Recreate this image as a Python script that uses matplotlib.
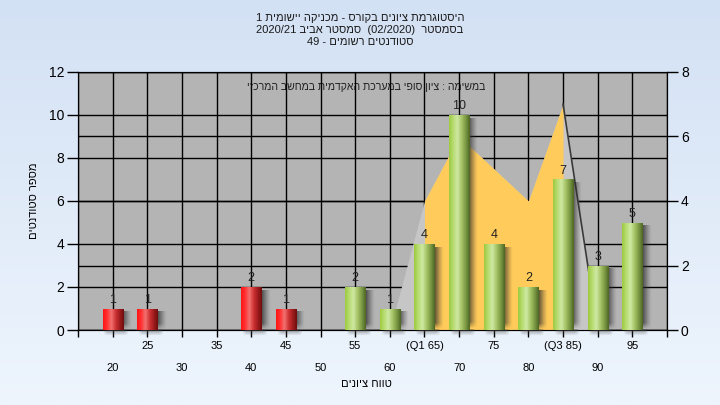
import numpy as np
import matplotlib
matplotlib.use("Agg")
import matplotlib.pyplot as plt
from matplotlib.colors import LinearSegmentedColormap, to_rgb

# ---------------- data ----------------
categories = [20, 25, 30, 35, 40, 45, 50, 55, 60, 65, 70, 75, 80, 85, 90, 95]
tick_labels = ['20', '25', '30', '35', '40', '45', '50', '55', '60',
               '(Q1 65)', '70', '75', '80', '(Q3 85)', '90', '95']
counts = [1, 1, 0, 0, 2, 1, 0, 2, 1, 4, 10, 4, 2, 7, 3, 5]
pass_grade = 55
area_grades = [60, 65, 70, 75, 80, 85, 90]
area_values = [0, 4, 6, 5, 4, 7, 0]
q1_grade, q3_grade = 65, 85

title_lines = ['היסטוגרמת ציונים בקורס - מכניקה יישומית 1',
               'בסמסטר  (02/2020)  סמסטר אביב 2020/21',
               'סטודנטים רשומים - 49']
note_text = 'במשימה : ציון סופי במערכת האקדמית במחשב המרכזי'
x_title = 'טווח ציונים'
y_title = 'מספר סטודנטים'

FONT = ['Liberation Sans', 'DejaVu Sans']
plt.rcParams['font.family'] = FONT


def bidi(s):
    """Minimal bidi reordering (RTL paragraph) for display."""
    def cls(c):
        o = ord(c)
        if 0x0590 <= o <= 0x05FF:
            return 'R'
        if c.isdigit():
            return 'EN'
        if c in '/.,:':
            return 'CS'
        if c in '-+':
            return 'ES'
        if c.isalpha():
            return 'L'
        return 'N'
    t = [cls(c) for c in s]
    n = len(t)
    for i in range(1, n - 1):
        if t[i] in ('CS', 'ES') and t[i - 1] == 'EN' and t[i + 1] == 'EN':
            t[i] = 'EN'
    t = ['N' if x in ('CS', 'ES') else x for x in t]
    last = 'R'
    for i in range(n):
        if t[i] in ('L', 'R'):
            last = t[i]
        elif t[i] == 'EN' and last == 'L':
            t[i] = 'L'
    i = 0
    while i < n:
        if t[i] == 'N':
            j = i
            while j < n and t[j] == 'N':
                j += 1
            b = 'R' if i == 0 or t[i - 1] in ('R', 'EN') else 'L'
            a = 'R' if j == n or t[j] in ('R', 'EN') else 'L'
            d = b if a == b else 'R'
            for k in range(i, j):
                t[k] = d
            i = j
        else:
            i += 1
    levels = [1 if x == 'R' else 2 for x in t]
    mirror = {'(': ')', ')': '(', '[': ']', ']': '['}
    chars = [mirror.get(c, c) if lv % 2 == 1 else c for c, lv in zip(s, levels)]
    seq = list(zip(chars, levels))
    for lev in (2, 1):
        out = []
        i = 0
        while i < n:
            if seq[i][1] >= lev:
                j = i
                while j < n and seq[j][1] >= lev:
                    j += 1
                out.extend(reversed(seq[i:j]))
                i = j
            else:
                out.append(seq[i])
                i += 1
        seq = out
    return ''.join(c for c, _ in seq)


fig = plt.figure(figsize=(7.2, 4.05), dpi=100)

# background gradient
bg = fig.add_axes([0, 0, 1, 1], zorder=-10)
top_c = np.array(to_rgb('#d3e1f4'))
bot_c = np.array(to_rgb('#eef5fd'))
tgrad = np.linspace(0, 1, 256)[:, None, None]
bg.imshow(top_c * (1 - tgrad) + bot_c * tgrad, aspect='auto', extent=[0, 1, 0, 1])
bg.set_axis_off()

L, B, W, H = 78 / 720, 1 - 330 / 405, (667 - 78) / 720, (330 - 72) / 405
ax = fig.add_axes([L, B, W, H])
ax.set_facecolor('#b4b4b4')
xpos = np.arange(len(categories))
ax.set_xlim(-1, len(categories))
ax.set_ylim(0, 12)
ax.set_yticks(np.arange(0, 13, 2))
ax.tick_params(axis='y', direction='out', length=8, width=1, labelsize=10, pad=2)
ax.set_axisbelow(True)
ax.grid(True, color='black', linewidth=1)
for sp in ax.spines.values():
    sp.set_color('black')

# x ticks: marks everywhere, labels in two staggered rows
major_pos = np.arange(-1, len(categories) + 1)
major_lab = []
for p in major_pos:
    if 0 <= p < len(categories) and p % 2 == 1:
        major_lab.append(tick_labels[p])
    else:
        major_lab.append('')
ax.set_xticks(major_pos)
ax.set_xticklabels(major_lab)
ax.xaxis.remove_overlapping_locs = False
even_pos = xpos[::2]
ax.set_xticks(even_pos, minor=True)
ax.set_xticklabels([tick_labels[p] for p in even_pos], minor=True)
ax.tick_params(axis='x', which='major', direction='out', length=5, width=1, labelsize=8, pad=3)
ax.tick_params(axis='x', which='minor', length=0, labelsize=8, pad=24)

ax.set_xlabel(bidi(x_title), fontsize=8)
ax.xaxis.set_label_coords(0.49, -0.19)
ax.set_ylabel(bidi(y_title), fontsize=8)
ax.yaxis.set_label_coords(-0.066, 0.5)

ax.text(0.49, 0.942, bidi(note_text), transform=ax.transAxes, ha='center', va='center',
        fontsize=7.6, color='#202020', zorder=0.3)

# right axis with distribution area
ax2 = ax.twinx()
ax2.set_ylim(0, 8)
ax2.set_yticks(np.arange(0, 9, 2))
ax2.tick_params(axis='y', direction='out', length=8, width=1, labelsize=10, pad=2)
ax2.set_axisbelow(True)
ax2.grid(True, axis='y', color='black', linewidth=1)
ax2.set_zorder(ax.get_zorder() + 1)
ax2.patch.set_visible(False)
for sp in ax2.spines.values():
    sp.set_color('black')

apos = np.array([categories.index(g) for g in area_grades])
avals = np.array(area_values)
ax2.fill_between(apos, 0, avals, color='#c6c6c6', linewidth=0, zorder=1)
inner = (np.array(area_grades) >= q1_grade) & (np.array(area_grades) <= q3_grade)
ax2.fill_between(apos[inner], 0, avals[inner], color='#ffcb5a', linewidth=0, zorder=1.1)
tail = np.array(area_grades) >= q3_grade
ax2.plot(apos[tail], avals[tail], color='#3a3a3a', linewidth=1.2, zorder=1.2)

# bars on top layer
ax3 = ax.twinx()
ax3.set_ylim(0, 12)
ax3.set_zorder(ax2.get_zorder() + 1)
ax3.patch.set_visible(False)
ax3.set_axis_off()

red_cmap = LinearSegmentedColormap.from_list(
    'redbar', ['#ff1414', '#ff3232', '#f27272', '#d03434', '#a01c1c', '#6e0e0e'])
green_cmap = LinearSegmentedColormap.from_list(
    'greenbar', ['#9ccb3e', '#b8dc72', '#cfe8a2', '#a6c668', '#7c9a44', '#4c6524'])

bw = 0.58
colors = ['#e03030' if c < pass_grade else '#9cc050' for c in categories]
bars = ax3.bar(xpos, counts, width=bw, color=colors, linewidth=0, zorder=3)

grad = np.linspace(0, 1, 128)[None, :]
shadow_w = 0.24
sx = np.linspace(0, 1, 32)
for rect, cat, val in zip(bars, categories, counts):
    if val <= 0:
        continue
    x0 = rect.get_x()
    x1 = x0 + rect.get_width()
    h = rect.get_height()
    top = h - 0.15
    ny = 64
    yy = np.linspace(0, 1, ny)[:, None]
    alpha_h = (1 - sx[None, :]) ** 1.3 * 0.85
    alpha_v = np.clip((1 - yy) * (top / 0.3), 0, 1)
    rgba = np.zeros((ny, 32, 4))
    rgba[..., :3] = 0.18
    rgba[..., 3] = alpha_h * alpha_v
    ax3.imshow(rgba, extent=[x1 - 0.02, x1 + shadow_w, 0, top], aspect='auto',
               origin='upper', zorder=2.5, interpolation='bilinear')
    # faint smudge just below the baseline
    sm = np.zeros((8, 32, 4))
    sm[..., :3] = 0.3
    sxx = np.linspace(-1, 1, 32)[None, :]
    syy = np.linspace(0, 1, 8)[:, None]
    sm[..., 3] = 0.55 * np.clip(1.2 - np.abs(sxx) ** 4, 0, 1) * (1 - syy)
    ims = ax3.imshow(sm, extent=[x0 + 0.05, x1 + 0.15, -0.28, 0], aspect='auto',
                     origin='upper', zorder=2.4, interpolation='bilinear')
    ims.set_clip_on(False)
    cmap = red_cmap if cat < pass_grade else green_cmap
    im = ax3.imshow(grad, cmap=cmap, extent=[x0, x1, 0, h], aspect='auto', zorder=3.5,
                    interpolation='bilinear')
    im.set_clip_path(rect)
    ax3.annotate(str(val), (rect.get_x() + rect.get_width() / 2, h), xytext=(0, 2),
                 textcoords='offset points', ha='center', va='bottom', fontsize=9,
                 color='#222222', zorder=5)

ax3.set_xlim(-1, len(categories))
ax3.set_ylim(0, 12)

# title lines
for i, line in enumerate(title_lines):
    fig.text(0.5, 1 - (18 + 12 * i) / 405, bidi(line), ha='center', va='center',
             fontsize=8, color='#1a1a1a')

fig.savefig('out.png', dpi=100)
